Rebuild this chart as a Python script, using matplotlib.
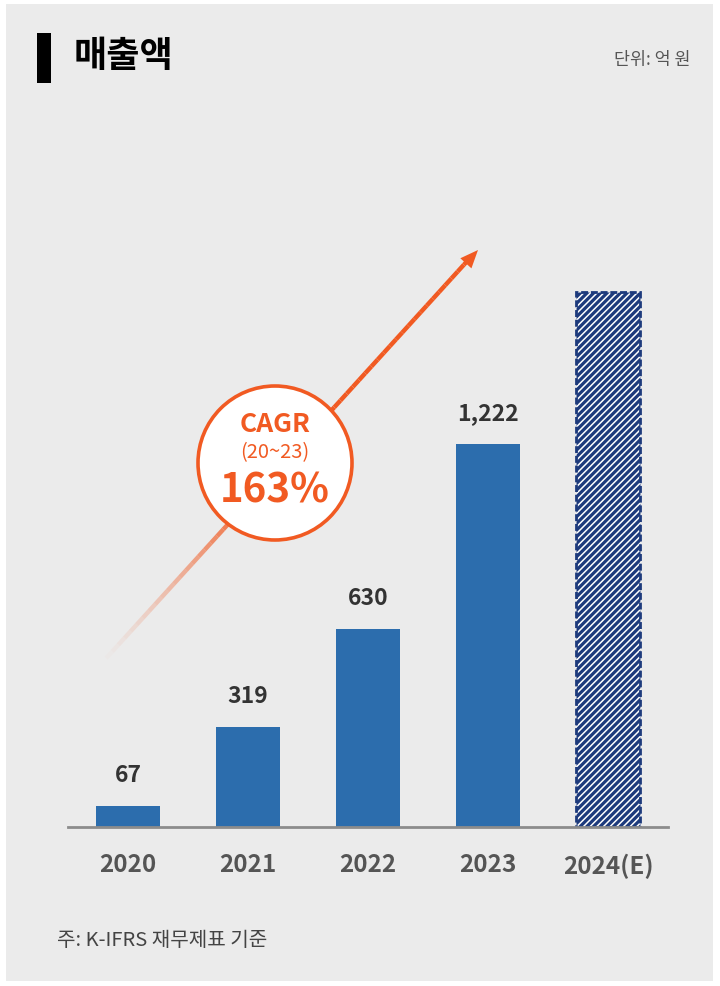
import matplotlib
matplotlib.use("Agg")
import matplotlib.pyplot as plt
from matplotlib.patches import Rectangle, Circle, Polygon
from matplotlib.collections import LineCollection
import numpy as np

plt.rcParams['font.family'] = ['Noto Sans CJK KR', 'DejaVu Sans']

# ---- data ----
categories = ["2020", "2021", "2022", "2023", "2024(E)"]
revenue = [67, 319, 630, 1222, 1705]
labels = ["67", "319", "630", "1,222", ""]
estimate = [False, False, False, False, True]
title = "매출액"
unit = "단위: 억 원"
note = "주: K-IFRS 재무제표 기준"
cagr_title = "CAGR"
cagr_period = "(20~23)"
cagr_value = "163%"

W, H = 720, 986
BG = "#ebebeb"
BLUE = "#2c6dad"
NAVY = "#1d3a7c"
ORANGE = "#f15a22"

plt.rcParams['hatch.linewidth'] = 2.3

fig = plt.figure(figsize=(W / 100, H / 100), dpi=100)
fig.patch.set_facecolor("white")
fig.add_artist(Rectangle((6 / W, 1 - 981 / H), 707 / W, 977 / H,
                         transform=fig.transFigure, facecolor=BG,
                         edgecolor="none", zorder=-5))

# main axes
x0, x1 = 68, 668
ytop, ybase = 100, 827
ax = fig.add_axes([x0 / W, 1 - ybase / H, (x1 - x0) / W, (ybase - ytop) / H])
ax.set_facecolor("none")
ax.set_xlim(-0.5, len(categories) - 0.5)
ax.set_ylim(0, (ybase - ytop) / 0.3135)

xs = np.arange(len(categories))
for i, (v, est) in enumerate(zip(revenue, estimate)):
    if est:
        ax.bar(i, v, width=0.54, facecolor="white", edgecolor=NAVY,
               hatch="/////", linestyle=(0, (2.5, 1.0)), linewidth=2.0, zorder=3)
    else:
        ax.bar(i, v, width=0.54, color=BLUE, zorder=3)
    if labels[i]:
        ax.annotate(labels[i], (i, v), xytext=(0, 22), textcoords="offset points",
                    ha="center", va="center", fontsize=16.5, fontweight="bold",
                    color="#333333")

for s in ["left", "right", "top"]:
    ax.spines[s].set_visible(False)
ax.spines["bottom"].set_color("#8c8c8c")
ax.spines["bottom"].set_linewidth(2)
ax.spines["bottom"].set_zorder(4)
ax.set_yticks([])
ax.set_xticks(xs)
ax.set_xticklabels(categories, fontsize=17.5, fontweight="bold", color="#555555")
ax.tick_params(axis="x", length=0, pad=19)

# overlay axes in pixel coordinates
ov = fig.add_axes([0, 0, 1, 1])
ov.set_xlim(0, W)
ov.set_ylim(H, 0)
ov.axis("off")
ov.patch.set_visible(False)

# title
ov.add_patch(Rectangle((37, 33), 14, 50, facecolor="black", edgecolor="none"))
ov.text(74, 57, title, fontsize=26, fontweight="bold", color="black",
        ha="left", va="center")
ov.text(691, 60, unit, fontsize=12.5, color="#555555", ha="right", va="center")
ov.text(57, 940, note, fontsize=14.5, color="#444444", ha="left", va="center")

# arrow with gradient tail
p0 = np.array([100.0, 665.0])
p1 = np.array([470.0, 258.0])
n = 60
ts = np.linspace(0, 1, n + 1)
pts = p0 + (p1 - p0) * ts[:, None]
segs = [[pts[k], pts[k + 1]] for k in range(n)]
rgb = matplotlib.colors.to_rgb(ORANGE)
cols = []
for k in range(n):
    t = ts[k]
    a = min(1.0, (t / 0.42) ** 1.3)
    cols.append((*rgb, a))
ov.add_collection(LineCollection(segs, colors=cols, linewidths=3.2,
                                 capstyle="butt", zorder=2))
tip = np.array([478.0, 250.0])
d = (tip - p0) / np.linalg.norm(tip - p0)
nrm = np.array([-d[1], d[0]])
L, Wd = 18, 7.5
base = tip - d * L
ov.add_patch(Polygon([tip, base + nrm * Wd, base - nrm * Wd], closed=True,
                     facecolor=ORANGE, edgecolor="none", zorder=2))

# CAGR circle
cx, cy, r = 275, 463, 77
ov.add_patch(Circle((cx, cy), r, facecolor="white", edgecolor=ORANGE,
                    linewidth=2.6, zorder=3))
ov.text(cx, 424, cagr_title, fontsize=19, fontweight="bold", color=ORANGE,
        ha="center", va="center", zorder=4)
ov.text(cx, 453, cagr_period, fontsize=14.5, color=ORANGE,
        ha="center", va="center", zorder=4)
ov.text(cx, 491, cagr_value, fontsize=29, fontweight="bold", color=ORANGE,
        ha="center", va="center", zorder=4)

fig.savefig("out.png", dpi=100, facecolor=fig.get_facecolor())
